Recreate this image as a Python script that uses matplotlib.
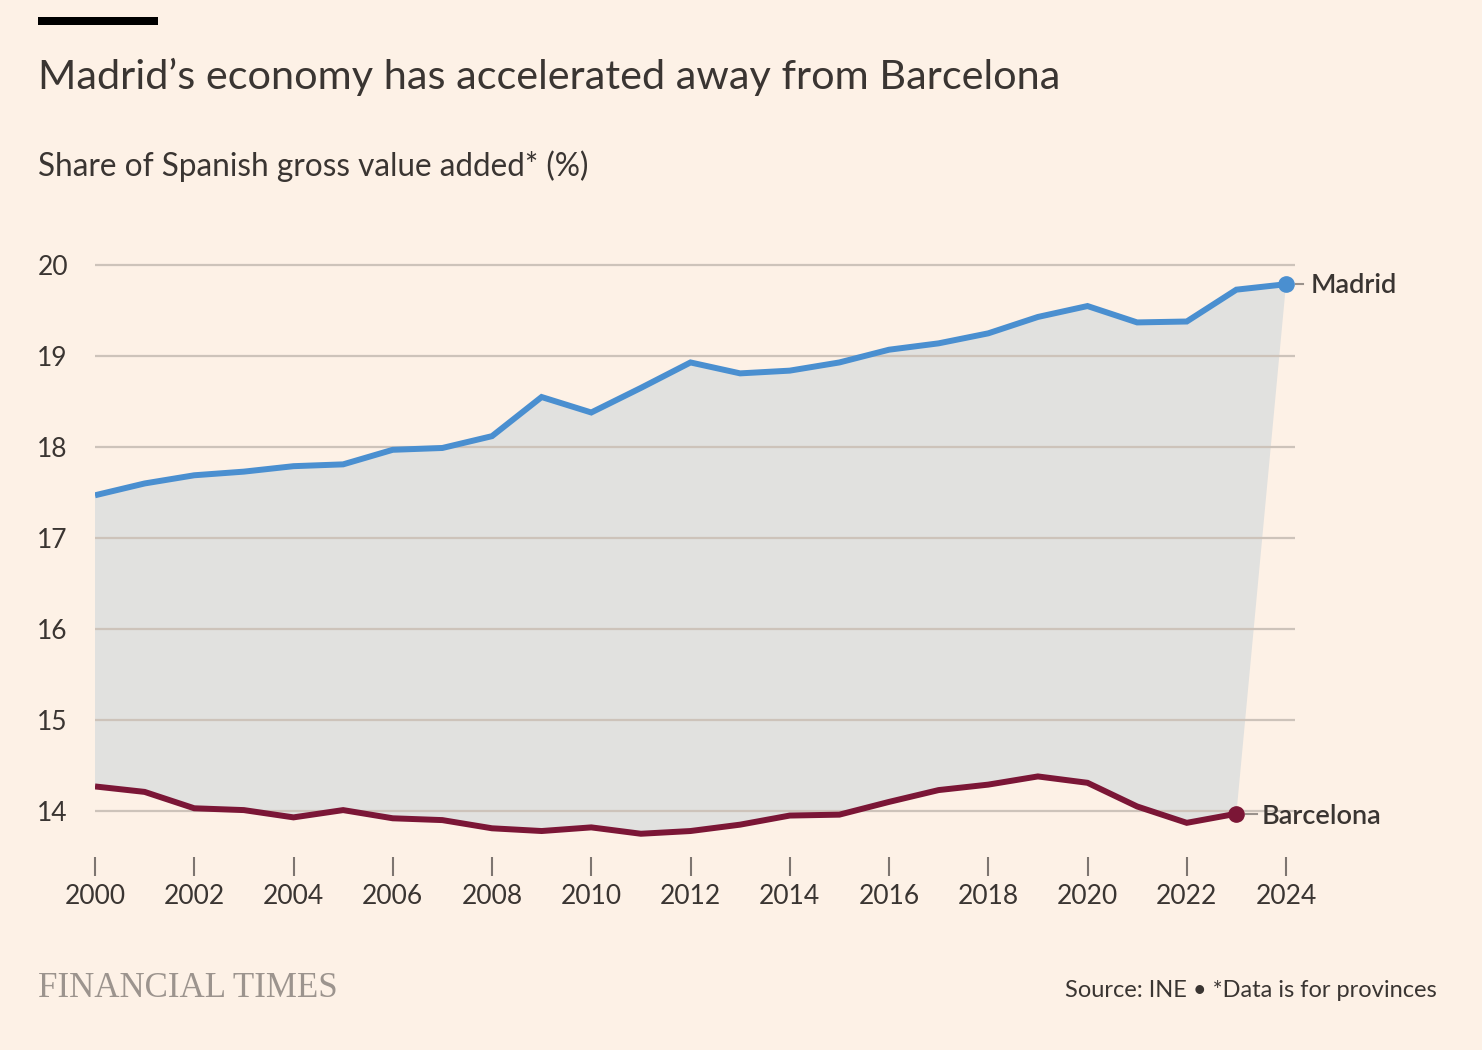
import matplotlib
matplotlib.use("Agg")
import matplotlib.pyplot as plt
import numpy as np

years = list(range(2000, 2025))
madrid = [17.47, 17.60, 17.69, 17.73, 17.79, 17.81, 17.97, 17.99, 18.12, 18.55,
          18.38, 18.65, 18.93, 18.81, 18.84, 18.93, 19.07, 19.14, 19.25, 19.43,
          19.55, 19.37, 19.38, 19.73, 19.79]
barc_years = list(range(2000, 2024))
barcelona = [14.27, 14.21, 14.03, 14.01, 13.93, 14.01, 13.92, 13.90, 13.81, 13.78,
             13.82, 13.75, 13.78, 13.85, 13.95, 13.96, 14.10, 14.23, 14.29, 14.38,
             14.31, 14.05, 13.87, 13.97]
yticks = [14, 15, 16, 17, 18, 19, 20]
xticks = list(range(2000, 2025, 2))

BG = "#FDF1E6"
BLUE = "#4A8FD0"
CLARET = "#7B1636"
FILL = "#E1E1DF"
GRID = "#CDC3BA"
TXT = "#3A3532"

plt.rcParams['font.family'] = ['Lato', 'DejaVu Sans']

W, H = 1482, 1050
fig = plt.figure(figsize=(W / 100, H / 100), dpi=100, facecolor=BG)

def px(x, y):
    return x / W, 1 - y / H

left = 95 / W
right = 1295 / W
bottom = (H - 856.5) / H
top = (H - 256) / H
ax = fig.add_axes([left, bottom, right - left, top - bottom])
ax.set_facecolor(BG)
ax.set_xlim(2000, 2024 + 9 / 49.625)
ax.set_ylim(13.5, 20.1)

# Fill polygon between the two series
poly_x = years + barc_years[::-1]
poly_y = madrid + barcelona[::-1]
ax.fill(poly_x, poly_y, color=FILL, zorder=1, lw=0)

ax.set_yticks(yticks)
ax.grid(axis='y', color=GRID, lw=1.6, zorder=0.5)
ax.set_axisbelow(False)
for s in ax.spines.values():
    s.set_visible(False)

ax.plot(years, madrid, color=BLUE, lw=4.3, zorder=3, solid_capstyle='butt', solid_joinstyle='miter')
ax.plot(barc_years, barcelona, color=CLARET, lw=4.3, zorder=3, solid_capstyle='butt', solid_joinstyle='miter')
ax.plot([years[-1]], [madrid[-1]], 'o', color=BLUE, ms=11, zorder=4)
ax.plot([barc_years[-1]], [barcelona[-1]], 'o', color=CLARET, ms=11, zorder=4)

ax.annotate("Madrid", xy=(years[-1], madrid[-1]), xytext=(18, -1), textcoords='offset points',
            va='center', ha='left', fontsize=19.5, color=TXT, fontweight='semibold', zorder=5)
ax.annotate("Barcelona", xy=(barc_years[-1], barcelona[-1]), xytext=(18, -2), textcoords='offset points',
            va='center', ha='left', fontsize=19.5, color=TXT, fontweight='semibold', zorder=5)
ax.plot([years[-1] + 0.2, years[-1] + 0.35], [madrid[-1]] * 2, color="#9a928c", lw=1.5, zorder=2, clip_on=False)
ax.plot([barc_years[-1] + 0.2, barc_years[-1] + 0.42], [barcelona[-1]] * 2, color="#9a928c", lw=1.5, zorder=2, clip_on=False)

ax.set_xticks(xticks)
ax.set_xticklabels([str(x) for x in xticks])
ax.tick_params(axis='x', length=14, width=1.5, color="#7d7570", labelsize=19, labelcolor=TXT, pad=6)
ax.tick_params(axis='y', length=0, labelsize=19, labelcolor=TXT)
for lab in ax.get_yticklabels():
    lab.set_horizontalalignment('left')
ax.yaxis.set_tick_params(pad=41.5)

# Header
bar_ax = fig.add_axes([38 / W, 1 - 25 / H, 120 / W, 8 / H])
bar_ax.set_facecolor('black')
bar_ax.set_xticks([]); bar_ax.set_yticks([])
for s in bar_ax.spines.values():
    s.set_visible(False)

fig.text(*px(38, 89), "Madrid\u2019s economy has accelerated away from Barcelona",
         fontsize=29.8, color=TXT, va='baseline', ha='left')
fig.text(*px(38, 176), "Share of Spanish gross value added* (%)",
         fontsize=22.7, color=TXT, va='baseline', ha='left')

# Footer
fig.text(*px(38, 997), "FINANCIAL TIMES", fontsize=25.1, color="#9C948E",
         family=['Liberation Serif', 'DejaVu Serif'], va='baseline', ha='left')
fig.text(*px(1437, 997), "Source: INE \u2022 *Data is for provinces", fontsize=17.0,
         color=TXT, va='baseline', ha='right')

fig.savefig("out.png", dpi=100, facecolor=BG)
